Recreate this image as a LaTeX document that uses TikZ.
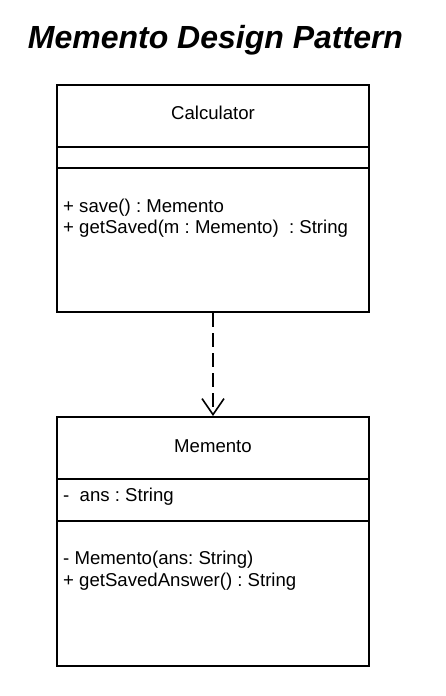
\documentclass[tikz,border=0pt]{standalone}
\usepackage{fontspec}
\setmainfont{Liberation Sans}
\usetikzlibrary{arrows.meta}
\frenchspacing

\tikzset{
  classbox/.style={draw, line width=2pt, rectangle, inner sep=0pt},
  member/.style={anchor=west, inner sep=0pt, font=\fontsize{18.6}{22}\selectfont},
  classname/.style={inner sep=0pt, font=\fontsize{18.6}{22}\selectfont},
  divider/.style={line width=2pt},
}

\begin{document}
\begin{tikzpicture}[x=1pt, y=-1pt]
  \useasboundingbox (0,0) rectangle (446,696);

  % title
  \node[inner sep=0pt, font=\fontsize{32}{36}\bfseries\itshape\selectfont] (title) at (215.5,40) {Memento Design Pattern};

  % Calculator class
  \node[classbox, minimum width=312pt, minimum height=227pt] (calc) at (213,198.5) {};
  \node[classname] (calcname) at (213,113) {Calculator};
  \coordinate (calcA) at (57,147);
  \coordinate (calcB) at (57,168);
  \draw[divider] (calcA) -- (calcA -| calc.east);
  \draw[divider] (calcB) -- (calcB -| calc.east);
  \node[member] (calcsave) at (63,208) {+ save() : Memento};
  \node[member] (calcget) at (63,229) {+ getSaved(m : Memento) \ : String};

  % Memento class
  \node[classbox, minimum width=312pt, minimum height=249pt] (mem) at (213,541.5) {};
  \node[classname] (memname) at (213,446) {Memento};
  \coordinate (memA) at (57,479);
  \coordinate (memB) at (57,521);
  \draw[divider] (memA) -- (memA -| mem.east);
  \draw[divider] (memB) -- (memB -| mem.east);
  \node[member] (memans) at (63,497) {- \ ans : String};
  \node[member] (memctor) at (63,560) {- Memento(ans: String)};
  \node[member] (memget) at (63,582) {+ getSavedAnswer() : String};

  % dependency
  \draw[line width=1.6pt, dash pattern=on 14pt off 6pt,
        -{Straight Barb[length=16pt, width=22pt, line width=1.6pt]}]
    (calc.south) -- (mem.north);
\end{tikzpicture}
\end{document}
